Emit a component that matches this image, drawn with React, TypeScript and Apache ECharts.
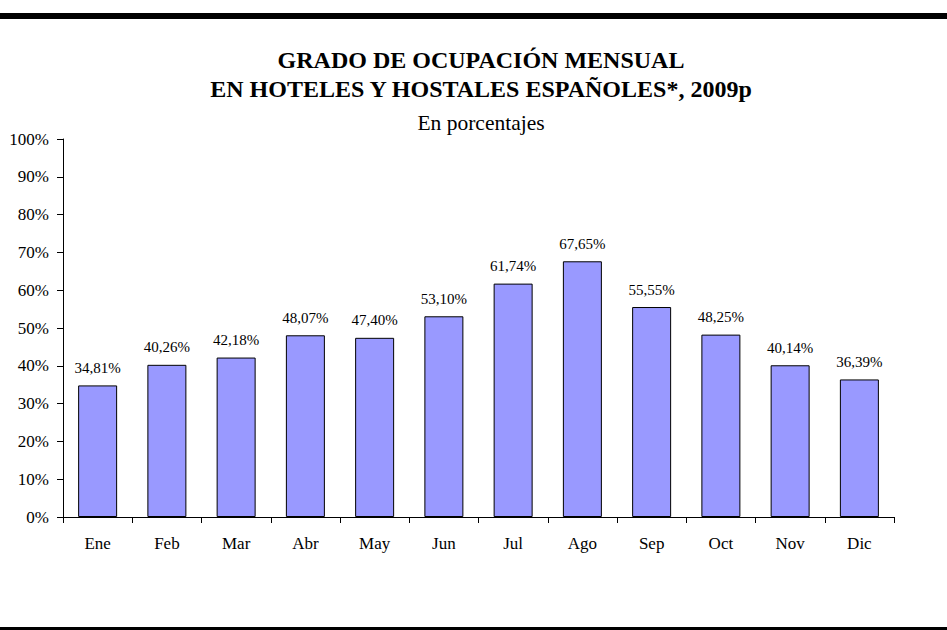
import React, { useEffect, useRef } from "react";
import * as echarts from "echarts";

const titleLines = ["GRADO DE OCUPACIÓN MENSUAL", "EN HOTELES Y HOSTALES ESPAÑOLES*, 2009p"];
const subtitle = "En porcentajes";
const months = ["Ene", "Feb", "Mar", "Abr", "May", "Jun", "Jul", "Ago", "Sep", "Oct", "Nov", "Dic"];
const occupancy = [34.81, 40.26, 42.18, 48.07, 47.4, 53.1, 61.74, 67.65, 55.55, 48.25, 40.14, 36.39];
const yTicks = { min: 0, max: 100, interval: 10 };

const FONT = '"Liberation Serif", "Times New Roman", serif';

export default function App() {
  const ref = useRef<HTMLDivElement>(null);
  useEffect(() => {
    if (!ref.current) return;
    const chart = echarts.init(ref.current, undefined, { renderer: "svg" });
    chart.setOption({
      animation: false,
      backgroundColor: "#ffffff",
      textStyle: { fontFamily: FONT },
      title: [
        {
          text: titleLines.join("\n"),
          left: 476,
          top: 40.5,
          textAlign: "center",
          textStyle: { fontFamily: FONT, fontSize: 24, fontWeight: "bold", color: "#000", lineHeight: 29 },
        },
        {
          text: subtitle,
          left: 476,
          top: 107,
          textAlign: "center",
          textStyle: { fontFamily: FONT, fontSize: 21.5, fontWeight: "normal", color: "#000", lineHeight: 22 },
        },
      ],
      graphic: [
        { type: "rect", left: 0, top: 13, shape: { width: 947, height: 6 }, style: { fill: "#000" } },
        { type: "rect", left: 0, top: 627, shape: { width: 947, height: 3 }, style: { fill: "#000" } },
      ],
      grid: { left: 63, right: 53, top: 139, bottom: 113, containLabel: false },
      xAxis: {
        type: "category",
        data: months,
        axisLine: { lineStyle: { color: "#000", width: 1 } },
        axisTick: { show: true, length: 6, alignWithLabel: false, lineStyle: { color: "#000" } },
        axisLabel: { color: "#000", fontFamily: FONT, fontSize: 17, margin: 18 },
      },
      yAxis: {
        type: "value",
        min: yTicks.min,
        max: yTicks.max,
        interval: yTicks.interval,
        splitLine: { show: false },
        axisLine: { show: true, lineStyle: { color: "#000", width: 1 } },
        axisTick: { show: true, length: 6, lineStyle: { color: "#000" } },
        axisLabel: { color: "#000", fontFamily: FONT, fontSize: 17, margin: 14, formatter: "{value}%" },
      },
      series: [
        {
          type: "bar",
          data: occupancy,
          barWidth: 39,
          itemStyle: { color: "#9999FF", borderColor: "#000", borderWidth: 1 },
          label: {
            show: true,
            position: "top",
            distance: 10,
            color: "#000",
            fontFamily: FONT,
            fontSize: 15,
            formatter: (p: any) => p.value.toFixed(2).replace(".", ",") + "%",
          },
        },
      ],
    });
    return () => chart.dispose();
  }, []);
  return (
    <div
      ref={ref}
      style={{ position: "fixed", left: 0, top: 0, width: 947, height: 630, background: "#fff" }}
    />
  );
}
